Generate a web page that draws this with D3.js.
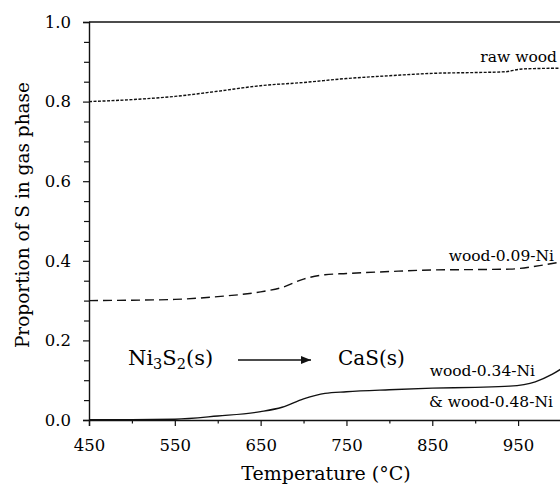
<!DOCTYPE html>
<html>
<head>
<meta charset="utf-8">
<script src="https://cdn.jsdelivr.net/npm/d3@7"></script>
<style>
html,body{margin:0;padding:0;background:#fff;}
svg{display:block;}
text{font-family:"DejaVu Serif",serif;fill:#000;}
</style>
</head>
<body>
<svg id="chart" width="560" height="486"></svg>
<script>
// Data
const rawWoodT = [450, 500, 550, 600, 650, 700, 750, 800, 850, 900, 935, 955, 1000];
const rawWoodV = [0.800, 0.805, 0.813, 0.826, 0.840, 0.848, 0.858, 0.865, 0.871, 0.873, 0.875, 0.882, 0.884];

const wood009T = [450, 500, 550, 600, 650, 675, 700, 725, 750, 800, 850, 900, 940, 975, 1000];
const wood009V = [0.300, 0.301, 0.303, 0.310, 0.322, 0.333, 0.354, 0.365, 0.368, 0.373, 0.377, 0.378, 0.379, 0.388, 0.397];

const wood034T = [450, 500, 550, 600, 650, 675, 700, 725, 750, 800, 850, 900, 940, 970, 990, 1000];
const wood034V = [0.001, 0.001, 0.002, 0.010, 0.021, 0.032, 0.053, 0.067, 0.071, 0.076, 0.080, 0.082, 0.085, 0.096, 0.115, 0.128];

const xTicks = [450, 550, 650, 750, 850, 950];
const xMinorTicks = [500, 600, 700, 800, 900, 1000];
const yTicks = [0.0, 0.2, 0.4, 0.6, 0.8, 1.0];
const yMinorTicks = [0.05, 0.1, 0.15, 0.25, 0.3, 0.35, 0.45, 0.5, 0.55, 0.65, 0.7, 0.75, 0.85, 0.9, 0.95];

(function () {
const serif = '"DejaVu Serif",serif';
const svg = d3.select("#chart");
const mLeft = 89, mRight = 561, mTop = 22, mBottom = 420;
const x = d3.scaleLinear().domain([450, 1000]).range([mLeft, mRight]);
const y = d3.scaleLinear().domain([0, 1]).range([mBottom, mTop]);

const line = d3.line().x(d => x(d[0])).y(d => y(d[1])).curve(d3.curveMonotoneX);
const zip = (a, b) => a.map((t, i) => [t, b[i]]);

// series
svg.append("path").datum(zip(rawWoodT, rawWoodV)).attr("d", line)
  .attr("fill", "none").attr("stroke", "#111").attr("stroke-width", 1.4).attr("stroke-dasharray", "3,1.5");
svg.append("path").datum(zip(wood009T, wood009V)).attr("d", line)
  .attr("fill", "none").attr("stroke", "#111").attr("stroke-width", 1.4).attr("stroke-dasharray", "9,5");
svg.append("path").datum(zip(wood034T, wood034V)).attr("d", line)
  .attr("fill", "none").attr("stroke", "#111").attr("stroke-width", 1.4);

// axes
const fmt = d3.format(".1f");
const yAxis = svg.append("g").attr("transform", `translate(${mLeft},0)`)
  .call(d3.axisLeft(y).tickValues(yTicks).tickFormat(fmt).tickSize(6).tickPadding(12));
const yMinor = svg.append("g").attr("transform", `translate(${mLeft},0)`)
  .call(d3.axisLeft(y).tickValues(yMinorTicks).tickFormat("").tickSize(5));
const xAxis = svg.append("g").attr("transform", `translate(0,${mBottom})`)
  .call(d3.axisBottom(x).tickValues(xTicks).tickFormat(d3.format("d")).tickSize(6).tickPadding(13));
const xMinor = svg.append("g").attr("transform", `translate(0,${mBottom})`)
  .call(d3.axisBottom(x).tickValues(xMinorTicks).tickFormat("").tickSize(3.5));
[yAxis, yMinor, xAxis, xMinor].forEach(g => {
  g.attr("font-family", serif);
  g.selectAll("path.domain").attr("stroke", "#111").attr("stroke-width", 1.4);
  g.selectAll(".tick line").attr("stroke", "#111").attr("stroke-width", 1.2);
  g.selectAll("text").attr("font-family", serif).style("font-family", serif).style("font-size", "16.5px").attr("fill", "#000");
});
xMinor.select("path.domain").remove();
yMinor.select("path.domain").remove();
// top border
svg.append("line").attr("x1", x(450)).attr("x2", x(1000)).attr("y1", y(1)).attr("y2", y(1))
  .attr("stroke", "#111").attr("stroke-width", 1.4);

// axis titles
svg.append("text").attr("x", (mLeft + mRight) / 2 + 1).attr("y", 480).attr("text-anchor", "middle")
  .style("font-family", serif).style("font-size", "19px").text("Temperature (°C)");
svg.append("text").attr("transform", `translate(29,${(mTop + mBottom) / 2 - 6}) rotate(-90)`)
  .attr("text-anchor", "middle").style("font-family", serif).style("font-size", "18.5px").text("Proportion of S in gas phase");

// series labels
const lab = (xx, yy, t) => svg.append("text").attr("x", xx).attr("y", yy).attr("text-anchor", "end")
  .style("font-family", serif).style("font-size", "15.5px").text(t);
lab(557, 62, "raw wood");
lab(554, 261, "wood-0.09-Ni");
lab(535, 376, "wood-0.34-Ni");
lab(553, 407, "& wood-0.48-Ni");

// reaction annotation
const r1 = svg.append("text").attr("x", 128).attr("y", 365).style("font-family", serif).style("font-size", "21px");
r1.append("tspan").text("Ni");
r1.append("tspan").attr("dy", 4).style("font-size", "14.5px").text("3");
r1.append("tspan").attr("dy", -4).text("S");
r1.append("tspan").attr("dy", 4).style("font-size", "14.5px").text("2");
r1.append("tspan").attr("dy", -4).text("(s)");
svg.append("text").attr("x", 338).attr("y", 365).style("font-family", serif).style("font-size", "20px").text("CaS(s)");

svg.append("defs").append("marker").attr("id", "ah").attr("viewBox", "0 0 10 10")
  .attr("refX", 10).attr("refY", 5).attr("markerWidth", 10).attr("markerHeight", 10)
  .attr("markerUnits", "userSpaceOnUse").attr("orient", "auto")
  .append("path").attr("d", "M0,1 L10,5 L0,9 Z").attr("fill", "#111");
svg.append("line").attr("x1", 238).attr("x2", 311).attr("y1", 360).attr("y2", 360)
  .attr("stroke", "#111").attr("stroke-width", 1.3).attr("marker-end", "url(#ah)");
})();
</script>
</body>
</html>
